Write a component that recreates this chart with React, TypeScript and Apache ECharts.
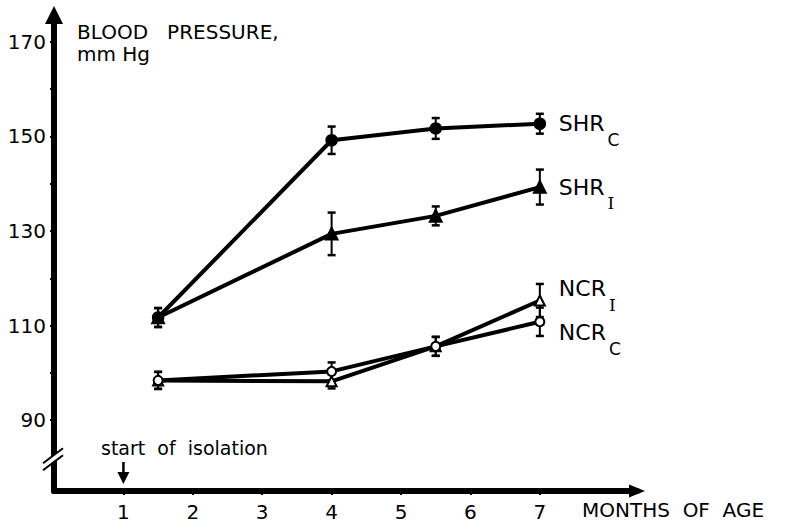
import { useEffect, useRef } from 'react';
import * as echarts from 'echarts';

const months = [1.5, 4, 5.5, 7];
const shrC = [111.7, 149.2, 151.7, 152.7];
const shrCErr = [2, 2.9, 2.2, 2.1];
const shrI = [111.7, 129.4, 133.2, 139.3];
const shrIErr = [2, 4.5, 2, 3.7];
const ncrI = [98.4, 98.2, 105.6, 115.3];
const ncrIErr = [1.8, 1.5, 2, 3.5];
const ncrC = [98.4, 100.3, 105.6, 110.8];
const ncrCErr = [1.8, 1.9, 2, 3];

const yTickValues = [90, 100, 110, 120, 130, 140, 150, 160, 170];
const yLabelValues = [90, 110, 130, 150, 170];
const xTickValues = [1, 2, 3, 4, 5, 6, 7];

const FONT = 'DejaVu Sans';

function pairs(vals: number[]) {
  return months.map((m, i) => [m, vals[i]]);
}
function errData(vals: number[], errs: number[]) {
  return months.map((m, i) => [m, vals[i] - errs[i], vals[i] + errs[i]]);
}

function labelRich(subSerif: boolean) {
  return {
    a: { fontFamily: FONT, fontSize: 22, color: '#000', lineHeight: 24 },
    b: {
      fontFamily: subSerif ? 'DejaVu Serif' : FONT,
      fontSize: 17,
      color: '#000',
      lineHeight: 19,
      padding: [32, 0, 0, 3],
    },
  };
}

function lineSeries(name: string, vals: number[], symbol: string, size: number, main: string, sub: string, subSerif: boolean, offsetY: number) {
  return {
    type: 'line',
    name,
    data: pairs(vals),
    symbol,
    symbolSize: size,
    showAllSymbol: true,
    lineStyle: { color: '#000', width: 4 },
    itemStyle: { color: '#000', borderColor: '#000', borderWidth: 2.5 },
    z: 3,
    endLabel: {
      show: true,
      distance: 19,
      offset: [0, offsetY],
      formatter: `{a|${main}}{b|${sub}}`,
      rich: labelRich(subSerif),
    },
  };
}

function errSeries(vals: number[], errs: number[]) {
  return {
    type: 'custom',
    data: errData(vals, errs),
    encode: { x: 0, y: [1, 2] },
    z: 2,
    renderItem: (_params: any, api: any) => {
      const x = api.value(0);
      const lo = api.value(1);
      const hi = api.value(2);
      const a = api.coord([x, hi]);
      const b = api.coord([x, lo]);
      const w = 4;
      const st = { stroke: '#000', lineWidth: 2 };
      return {
        type: 'group',
        children: [
          { type: 'line', shape: { x1: a[0], y1: a[1], x2: b[0], y2: b[1] }, style: st },
          { type: 'line', shape: { x1: a[0] - w, y1: a[1], x2: a[0] + w, y2: a[1] }, style: { stroke: '#000', lineWidth: 2.5 } },
          { type: 'line', shape: { x1: b[0] - w, y1: b[1], x2: b[0] + w, y2: b[1] }, style: { stroke: '#000', lineWidth: 2.5 } },
        ],
      };
    },
  };
}

export default function App() {
  const ref = useRef<HTMLDivElement>(null);
  useEffect(() => {
    const chart = echarts.init(ref.current!, null, { renderer: 'svg' });
    const option: any = {
      animation: false,
      backgroundColor: '#fff',
      grid: { left: 54, right: 149, top: 15, bottom: 37 },
      xAxis: {
        type: 'value',
        min: 0,
        max: 8.4,
        splitLine: { show: false },
        axisLine: {
          show: true,
          onZero: false,
          symbol: ['none', 'triangle'],
          symbolSize: [13, 16],
          lineStyle: { color: '#000', width: 6 },
        },
        axisTick: { show: true, customValues: xTickValues, length: 4, lineStyle: { color: '#000', width: 2 } },
        axisLabel: {
          customValues: xTickValues,
          margin: 11,
          color: '#000',
          fontFamily: FONT,
          fontSize: 20,
        },
      },
      yAxis: {
        type: 'value',
        min: 75,
        max: 175.7,
        splitLine: { show: false },
        axisLine: {
          show: true,
          onZero: false,
          symbol: ['none', 'triangle'],
          symbolSize: [18, 18],
          lineStyle: { color: '#000', width: 6 },
        },
        axisTick: { show: true, customValues: yTickValues, length: 4, lineStyle: { color: '#000', width: 2 } },
        axisLabel: {
          customValues: yLabelValues,
          margin: 8,
          color: '#000',
          fontFamily: FONT,
          fontSize: 20,
        },
      },
      series: [
        errSeries(shrC, shrCErr),
        errSeries(shrI, shrIErr),
        errSeries(ncrI, ncrIErr),
        errSeries(ncrC, ncrCErr),
        lineSeries('SHR_C', shrC, 'circle', 10, 'SHR', 'C', false, 0),
        lineSeries('SHR_I', shrI, 'triangle', 11, 'SHR', 'I', true, 0),
        lineSeries('NCR_I', ncrI, 'emptyTriangle', 10, 'NCR', 'I', true, -12),
        lineSeries('NCR_C', ncrC, 'emptyCircle', 9, 'NCR', 'C', false, 11),
      ],
    };
    chart.setOption(option);

    const isoTop = chart.convertToPixel({ gridIndex: 0 }, [1, 75]) as number[];
    const brk = chart.convertToPixel({ gridIndex: 0 }, [0, 81.5]) as number[];
    const bx = brk[0];
    const by = brk[1];
    chart.setOption({
      graphic: [
        {
          type: 'text',
          left: 77,
          top: 21,
          style: {
            text: 'BLOOD   PRESSURE,\nmm Hg',
            fontFamily: FONT,
            fontSize: 20,
            lineHeight: 22,
            fill: '#000',
          },
        },
        {
          type: 'text',
          x: 582,
          y: 510,
          style: {
            text: 'MONTHS  OF  AGE',
            fontFamily: FONT,
            fontSize: 20,
            fill: '#000',
            textAlign: 'left',
            textVerticalAlign: 'middle',
          },
        },
        {
          type: 'text',
          x: isoTop[0] + 61,
          y: 448,
          style: {
            text: 'start  of  isolation',
            fontFamily: FONT,
            fontSize: 19,
            fill: '#000',
            textAlign: 'center',
            textVerticalAlign: 'middle',
          },
        },
        {
          type: 'line',
          shape: { x1: isoTop[0], y1: 462, x2: isoTop[0], y2: 476 },
          style: { stroke: '#000', lineWidth: 2.5 },
        },
        {
          type: 'polygon',
          shape: { points: [[isoTop[0] - 6, 472], [isoTop[0] + 6, 472], [isoTop[0], 484]] },
          style: { fill: '#000' },
        },
        {
          type: 'polygon',
          z: 100,
          shape: { points: [[bx - 11, by + 9], [bx + 9, by - 6], [bx + 9, by - 12], [bx - 11, by + 3]] },
          style: { fill: '#fff' },
        },
        {
          type: 'line',
          z: 101,
          shape: { x1: bx - 11, y1: by + 10, x2: bx + 9, y2: by - 5 },
          style: { stroke: '#000', lineWidth: 2 },
        },
        {
          type: 'line',
          z: 101,
          shape: { x1: bx - 11, y1: by + 3, x2: bx + 9, y2: by - 12 },
          style: { stroke: '#000', lineWidth: 2 },
        },
      ],
    });
    return () => chart.dispose();
  }, []);
  return (
    <div
      ref={ref}
      style={{ position: 'absolute', left: 0, top: 0, width: 786, height: 528, background: '#fff' }}
    />
  );
}
